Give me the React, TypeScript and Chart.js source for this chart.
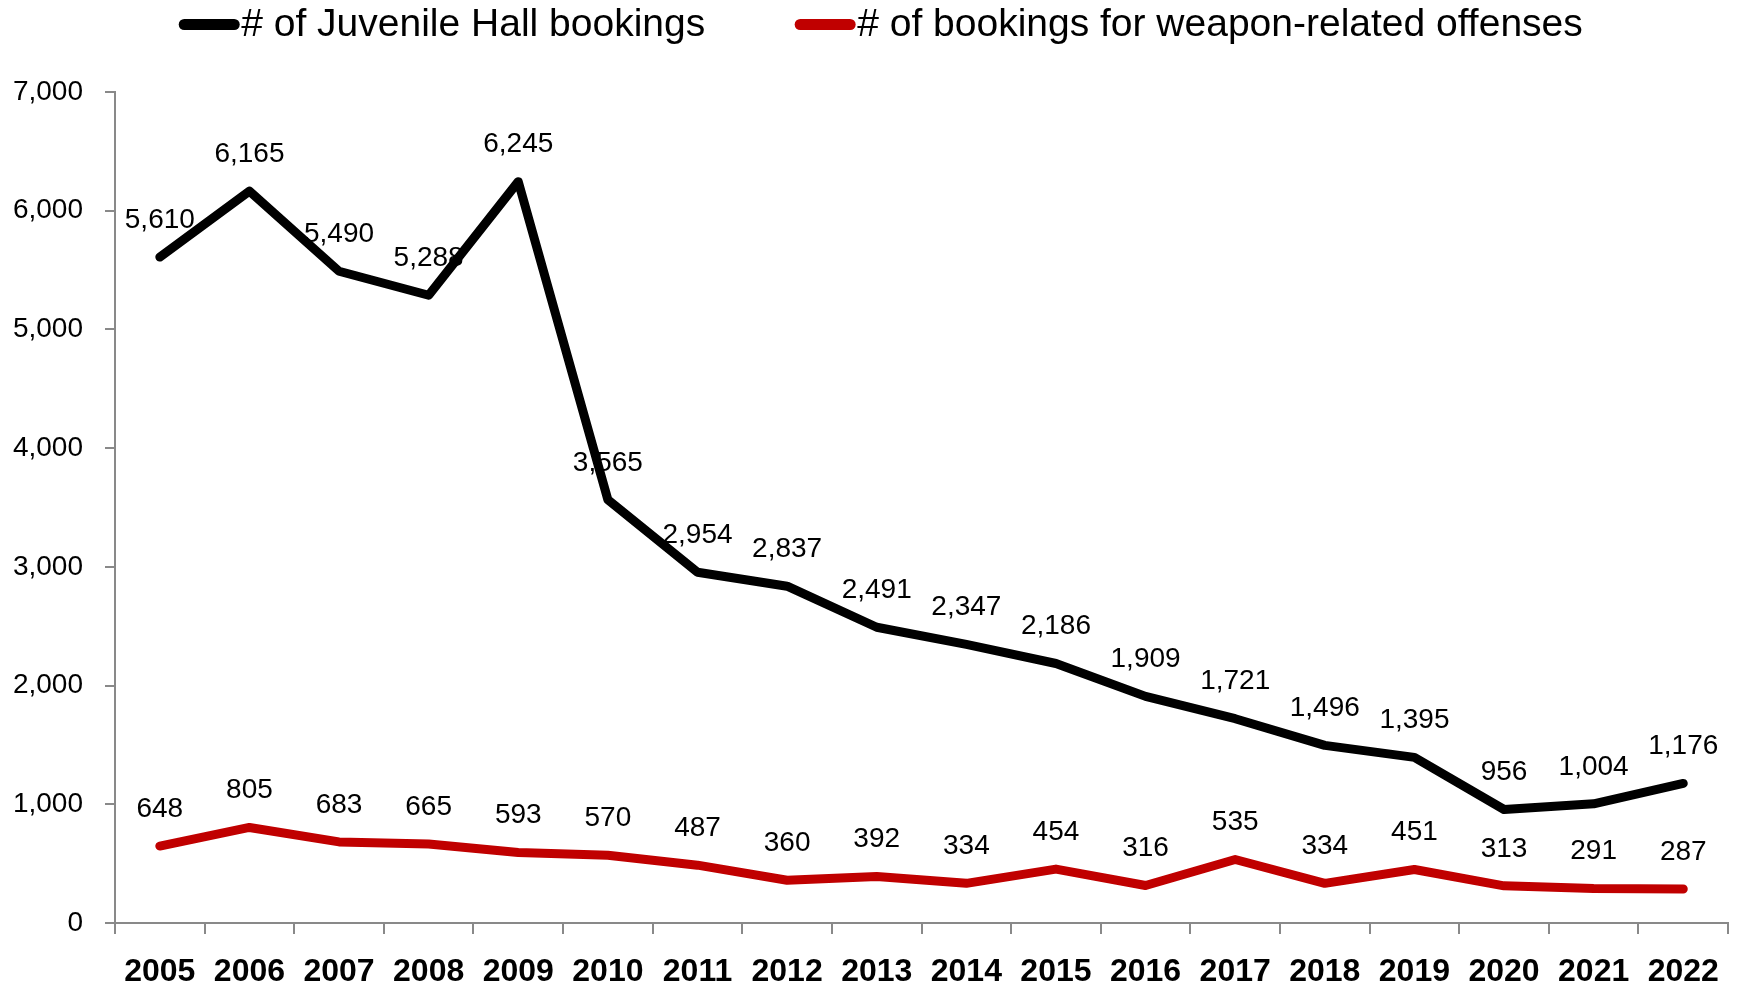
import React, { useEffect, useRef } from "react";
import { Chart, registerables } from "chart.js";

Chart.register(...registerables);

const years = ["2005","2006","2007","2008","2009","2010","2011","2012","2013","2014","2015","2016","2017","2018","2019","2020","2021","2022"];
const juvenileBookings = [5610, 6165, 5490, 5288, 6245, 3565, 2954, 2837, 2491, 2347, 2186, 1909, 1721, 1496, 1395, 956, 1004, 1176];
const weaponBookings = [648, 805, 683, 665, 593, 570, 487, 360, 392, 334, 454, 316, 535, 334, 451, 313, 291, 287];
const seriesNames = ["# of Juvenile Hall bookings", "# of bookings for weapon-related offenses"];
const seriesColors = ["#000000", "#C00000"];

const FONT = "'Liberation Sans', Arial, sans-serif";
const AXIS_GRAY = "#898989";

const fmt = (n: number) => n.toLocaleString("en-US");

const labelPlugin = {
  id: "valueLabels",
  afterDatasetsDraw(chart: any) {
    const ctx = chart.ctx;
    ctx.save();
    ctx.font = `28px ${FONT}`;
    ctx.fillStyle = "#000";
    ctx.textAlign = "center";
    ctx.textBaseline = "middle";
    chart.data.datasets.forEach((ds: any, i: number) => {
      const meta = chart.getDatasetMeta(i);
      meta.data.forEach((pt: any, j: number) => {
        ctx.fillText(fmt(ds.data[j]), pt.x, pt.y - 37);
      });
    });
    ctx.restore();
  },
};

const legendPlugin = {
  id: "customLegend",
  afterDraw(chart: any) {
    const ctx = chart.ctx;
    ctx.save();
    ctx.font = `39px ${FONT}`;
    ctx.textBaseline = "middle";
    ctx.textAlign = "left";
    const lineW = 60;
    const gap = 92;
    const w1 = ctx.measureText(seriesNames[0]).width;
    const w2 = ctx.measureText(seriesNames[1]).width;
    const total = lineW + w1 + gap + lineW + w2;
    let x = 872 - total / 2;
    const y = 16.5;
    [w1, w2].forEach((w, i) => {
      ctx.strokeStyle = seriesColors[i];
      ctx.lineWidth = 11;
      ctx.lineCap = "round";
      ctx.beginPath();
      ctx.moveTo(x + 5, y);
      ctx.lineTo(x + lineW - 5, y);
      ctx.stroke();
      ctx.fillStyle = "#000";
      ctx.fillText(seriesNames[i], x + lineW + 2, y + 1);
      x += lineW + w + gap;
    });
    ctx.restore();
  },
};

export default function App() {
  const ref = useRef<HTMLCanvasElement | null>(null);
  useEffect(() => {
    if (!ref.current) return;
    Chart.defaults.font.family = FONT;
    const chart = new Chart(ref.current, {
      type: "line",
      data: {
        labels: years,
        datasets: [
          {
            label: seriesNames[0],
            data: juvenileBookings,
            borderColor: seriesColors[0],
            backgroundColor: seriesColors[0],
            borderWidth: 9,
            pointRadius: 0,
            tension: 0,
            borderCapStyle: "round",
            borderJoinStyle: "round",
          },
          {
            label: seriesNames[1],
            data: weaponBookings,
            borderColor: seriesColors[1],
            backgroundColor: seriesColors[1],
            borderWidth: 9,
            pointRadius: 0,
            tension: 0,
            borderCapStyle: "round",
            borderJoinStyle: "round",
          },
        ],
      },
      options: {
        animation: false,
        responsive: true,
        maintainAspectRatio: false,
        layout: { padding: { top: 84, right: 5, left: 0, bottom: 0 } },
        plugins: {
          legend: { display: false },
          tooltip: { enabled: false },
        },
        scales: {
          x: {
            offset: true,
            grid: {
              offset: true,
              drawOnChartArea: false,
              drawTicks: true,
              tickLength: 11,
              color: AXIS_GRAY,
              lineWidth: 2,
            },
            border: { display: true, color: AXIS_GRAY, width: 2 },
            ticks: {
              color: "#000",
              font: { size: 32, weight: "bold", family: FONT },
              padding: 19,
              maxRotation: 0,
              autoSkip: false,
            },
            afterFit: (s: any) => {
              s.height = 58;
            },
          },
          y: {
            min: 0,
            max: 7000,
            grid: {
              drawOnChartArea: false,
              drawTicks: true,
              tickLength: 10,
              color: AXIS_GRAY,
              lineWidth: 2,
            },
            border: { display: true, color: AXIS_GRAY, width: 2 },
            ticks: {
              stepSize: 1000,
              color: "#000",
              font: { size: 28, family: FONT },
              padding: 22,
              callback: (v: any) => fmt(Number(v)),
            },
            afterFit: (s: any) => {
              s.width = 107;
            },
          },
        },
      },
      plugins: [labelPlugin, legendPlugin],
    });
    return () => chart.destroy();
  }, []);
  return (
    <div style={{ width: 1730, height: 973, position: "relative" }}>
      <canvas ref={ref} />
    </div>
  );
}
